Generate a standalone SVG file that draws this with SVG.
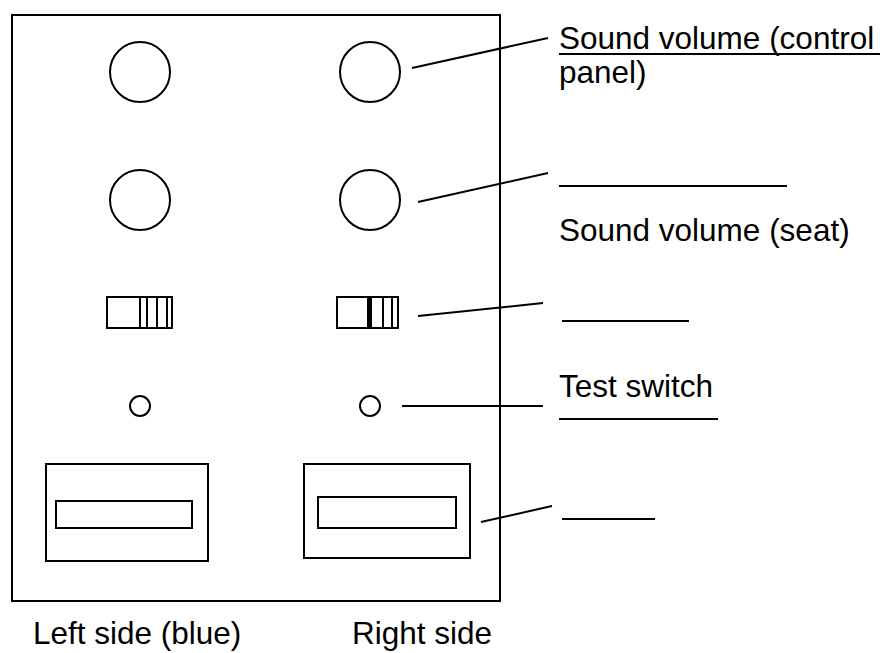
<svg xmlns="http://www.w3.org/2000/svg" width="884" height="653" viewBox="0 0 884 653">
<style>
.s{fill:none;stroke:#000;stroke-width:2}
.t{font-family:"Liberation Sans",Arial,sans-serif;font-size:31.5px;fill:#000}
.l{stroke:#000;stroke-width:2;fill:none}
</style>
<rect width="884" height="653" fill="#fff"/>
<g id="panel"><rect class="s" x="12" y="15" width="488" height="586"/></g>
<g id="knob-top-left"><circle class="s" cx="140" cy="72" r="30"/></g>
<g id="knob-top-right"><circle class="s" cx="370" cy="72" r="30"/></g>
<g id="knob-mid-left"><circle class="s" cx="140" cy="200" r="30"/></g>
<g id="knob-mid-right"><circle class="s" cx="370" cy="200" r="30"/></g>
<g id="switch-left">
<rect class="s" x="107" y="297" width="65" height="31"/>
<line class="l" x1="140" y1="297" x2="140" y2="328" stroke-width="3"/>
<line class="l" x1="147" y1="297" x2="147" y2="328" stroke-width="1.5"/>
<line class="l" x1="157" y1="297" x2="157" y2="328" stroke-width="1.5"/>
<line class="l" x1="167" y1="297" x2="167" y2="328" stroke-width="1.5"/>
</g>
<g id="switch-right">
<rect class="s" x="337" y="297" width="61" height="31"/>
<rect x="367" y="297" width="5" height="31" fill="#000"/>
<line class="l" x1="383" y1="297" x2="383" y2="328" stroke-width="1.5"/>
<line class="l" x1="392" y1="297" x2="392" y2="328" stroke-width="1.5"/>
</g>
<g id="led-left"><circle class="s" cx="140" cy="406" r="10"/></g>
<g id="led-right"><circle class="s" cx="370" cy="406" r="10"/></g>
<g id="slot-left">
<rect class="s" x="46" y="464" width="162" height="97"/>
<rect class="s" x="56" y="501" width="136" height="27"/>
</g>
<g id="slot-right">
<rect class="s" x="304" y="464" width="166" height="94"/>
<rect class="s" x="318" y="497" width="138" height="31"/>
</g>
<g id="connectors">
<line class="l" x1="412" y1="68" x2="548" y2="38"/>
<line class="l" x1="418" y1="202" x2="548" y2="173"/>
<line class="l" x1="418" y1="316" x2="543" y2="303"/>
<line class="l" x1="402" y1="406" x2="543" y2="406"/>
<line class="l" x1="481" y1="522" x2="552" y2="506"/>
</g>
<g id="labels">
<text class="t" x="559" y="49">Sound volume (control</text>
<line class="l" x1="559" y1="54" x2="880" y2="54"/>
<text class="t" x="559" y="83">panel)</text>
<line class="l" x1="559" y1="186" x2="787" y2="186"/>
<text class="t" x="559" y="241">Sound volume (seat)</text>
<line class="l" x1="562" y1="321" x2="689" y2="321"/>
<text class="t" x="559" y="397">Test switch</text>
<line class="l" x1="559" y1="419" x2="718" y2="419"/>
<line class="l" x1="562" y1="519" x2="655" y2="519"/>
<text class="t" x="33" y="644">Left side (blue)</text>
<text class="t" x="352" y="644">Right side</text>
</g>
</svg>
